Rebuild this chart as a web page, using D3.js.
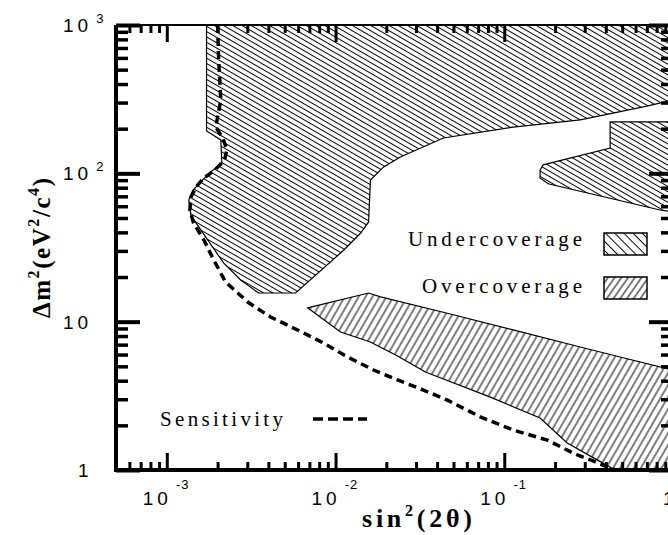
<!DOCTYPE html>
<html>
<head>
<meta charset="utf-8">
<script src="https://cdn.jsdelivr.net/npm/d3@7"></script>
<style>
  body { margin: 0; background: #fff; }
  .tick line { stroke: #000; }
  .domain { stroke: #000; }
</style>
</head>
<body>
<div id="chart"></div>
<script>
// region boundaries: [sin^2(2theta), dm^2]
var underMain = [
  [1.72e-3, 1000], [1.72e-3, 193], [2.09e-3, 168], [2.12e-3, 117], [1.82e-3, 102],
  [1.61e-3, 89], [1.43e-3, 77], [1.35e-3, 66], [1.39e-3, 52], [1.75e-3, 35.5],
  [2.17e-3, 24.9], [2.74e-3, 19.1], [3.5e-3, 15.6], [5.8e-3, 15.6], [1.12e-2, 30.4],
  [1.41e-2, 39.6], [1.57e-2, 47], [1.61e-2, 90], [1.92e-2, 110], [2.42e-2, 129],
  [4.36e-2, 173], [0.113, 205], [0.282, 229], [0.70, 284], [1.0, 312], [1.0, 1000]
];

var underIsland = [
  [1.0, 222], [0.424, 222], [0.424, 148], [0.170, 114], [0.163, 105],
  [0.163, 93], [0.182, 85], [0.838, 56.6], [1.0, 55]
];

var overRegion = [
  [6.83e-3, 12.4], [1.57e-2, 15.6], [1.85e-2, 14.7], [4.6e-2, 11.4], [0.113, 8.8],
  [0.282, 6.75], [0.486, 5.78], [1.0, 4.72], [1.0, 1.0], [0.454, 1.0],
  [0.355, 1.17], [0.236, 1.52], [0.163, 2.24], [0.0827, 3.1], [0.0341, 4.58],
  [0.0233, 5.87], [0.0161, 7.29], [0.0107, 8.52]
];

var sensitivity = [
  [2.0e-3, 1000], [2.03e-3, 581], [2.09e-3, 312], [1.95e-3, 205], [2.15e-3, 173],
  [2.27e-3, 144], [2.2e-3, 123], [1.92e-3, 105], [1.66e-3, 93], [1.49e-3, 81],
  [1.39e-3, 69], [1.37e-3, 56.6], [1.44e-3, 46.3], [1.66e-3, 35.5], [1.87e-3, 26.9],
  [2.23e-3, 18.5], [3.06e-3, 13.4], [4.12e-3, 10.75], [5.96e-3, 8.79], [8.49e-3, 7.18],
  [1.18e-2, 5.78], [1.68e-2, 4.72], [2.33e-2, 4.05], [3.32e-2, 3.46], [4.6e-2, 2.96],
  [7.21e-2, 2.28], [0.113, 1.86], [0.18, 1.59], [0.256, 1.3], [0.336, 1.15],
  [0.407, 1.05], [0.454, 1.0]
];

var xMajor = [1e-3, 1e-2, 1e-1, 1];
var yMajor = [1, 10, 100, 1000];
var xTickLabels = [
  {v: 1e-3, base: "10", exp: "-3"},
  {v: 1e-2, base: "10", exp: "-2"},
  {v: 1e-1, base: "10", exp: "-1"},
  {v: 1, base: "1", exp: ""}
];
var yTickLabels = [
  {v: 1000, base: "10", exp: "3"},
  {v: 100, base: "10", exp: "2"},
  {v: 10, base: "10", exp: ""},
  {v: 1, base: "1", exp: ""}
];
var legendLabels = ["Undercoverage", "Overcoverage"];

(function() {
  var width = 668,
      height = 535,
      left = 116, right = 673, top = 25, bottom = 470;

  var svg = d3.select("#chart")
    .append("svg")
    .attr("width", width)
    .attr("height", height);

  var x = d3.scaleLog().domain([5e-4, 1]).range([left, right]);
  var y = d3.scaleLog().domain([1, 1000]).range([bottom, top]);

  // minor ticks: 2..9 in every decade
  function minors(lo, hi) {
    var out = [];
    for (var p = lo; p < hi; p++) {
      for (var m = 2; m <= 9; m++) {
        out.push(m * Math.pow(10, p));
      }
    }
    return out;
  }
  var xMinor = minors(-4, 0).filter(function(v) { return v > 5e-4 && v < 1; });
  var yMinor = minors(0, 3);

  var defs = svg.append("defs");

  function hatch(id, spacing, angle) {
    var p = defs.append("pattern")
      .attr("id", id)
      .attr("patternUnits", "userSpaceOnUse")
      .attr("width", spacing)
      .attr("height", spacing)
      .attr("patternTransform", "rotate(" + angle + ")");
    p.append("line")
      .attr("x1", -1).attr("x2", spacing + 1)
      .attr("y1", spacing / 2).attr("y2", spacing / 2)
      .attr("stroke", "#000")
      .attr("stroke-width", 1);
  }
  hatch("under", 4.6, 30);
  hatch("over", 6, -60);
  hatch("underLeg", 6.5, 45);
  hatch("overLeg", 5.5, -55);

  defs.append("clipPath").attr("id", "plot")
    .append("rect")
    .attr("x", left).attr("y", top)
    .attr("width", right - left).attr("height", bottom - top);

  var line = d3.line()
    .x(function(d) { return x(d[0]); })
    .y(function(d) { return y(d[1]); });

  var g = svg.append("g").attr("clip-path", "url(#plot)");

  //the hatched regions
  g.selectAll(".region")
    .data([
      {pts: underMain, fill: "url(#under)"},
      {pts: underIsland, fill: "url(#under)"},
      {pts: overRegion, fill: "url(#over)"}
    ])
    .enter()
    .append("path")
    .attr("class", "region")
    .attr("d", function(d) { return line(d.pts) + "Z"; })
    .attr("fill", function(d) { return d.fill; })
    .attr("stroke", "#000")
    .attr("stroke-width", 1.2);

  //sensitivity curve
  g.append("path")
    .attr("d", line(sensitivity))
    .attr("fill", "none")
    .attr("stroke", "#000")
    .attr("stroke-width", 3.5)
    .attr("stroke-dasharray", "8,5");

  //axes, ticks pointing inwards
  function drawAxis(axis, tr, vals, size, sw) {
    svg.append("g")
      .attr("transform", tr)
      .call(axis.tickValues(vals).tickSize(size).tickSizeOuter(0).tickFormat(""))
      .call(function(s) {
        s.selectAll(".tick line").attr("stroke-width", sw);
        s.select(".domain").remove();
      });
  }
  drawAxis(d3.axisBottom(x), "translate(0," + bottom + ")", xMinor, -8, 3);
  drawAxis(d3.axisBottom(x), "translate(0," + bottom + ")", xMajor, -17, 3);
  drawAxis(d3.axisTop(x), "translate(0," + top + ")", xMinor, -8, 3);
  drawAxis(d3.axisTop(x), "translate(0," + top + ")", xMajor, -17, 3);
  drawAxis(d3.axisLeft(y), "translate(" + left + ",0)", yMinor, -12, 3.5);
  drawAxis(d3.axisLeft(y), "translate(" + left + ",0)", yMajor, -24, 4);
  drawAxis(d3.axisRight(y), "translate(" + right + ",0)", yMinor, -12, 3.5);
  drawAxis(d3.axisRight(y), "translate(" + right + ",0)", yMajor, -24, 4);

  //frame
  svg.append("line").attr("x1", left - 2).attr("x2", right).attr("y1", bottom).attr("y2", bottom)
    .attr("stroke", "#000").attr("stroke-width", 4);
  svg.append("line").attr("x1", left).attr("x2", left).attr("y1", top).attr("y2", bottom + 2)
    .attr("stroke", "#000").attr("stroke-width", 4);
  svg.append("line").attr("x1", left).attr("x2", right).attr("y1", top).attr("y2", top)
    .attr("stroke", "#000").attr("stroke-width", 2);
  svg.append("line").attr("x1", right).attr("x2", right).attr("y1", top).attr("y2", bottom)
    .attr("stroke", "#000").attr("stroke-width", 2);

  //tick labels
  var sans = "'Liberation Sans', Arial, sans-serif";
  var serif = "'Liberation Serif', 'Times New Roman', serif";

  var yl = svg.selectAll(".ylab")
    .data(yTickLabels)
    .enter()
    .append("text")
    .attr("class", "ylab")
    .attr("font-family", sans)
    .attr("font-size", 19)
    .attr("letter-spacing", 4)
    .attr("x", function(d) { return d.base === "1" ? 78 : 63; })
    .attr("y", function(d) { return y(d.v) + 7; });
  yl.append("tspan").text(function(d) { return d.base; });
  yl.append("tspan")
    .attr("font-size", 13)
    .attr("dx", 4)
    .attr("dy", -9)
    .text(function(d) { return d.exp; });

  var xl = svg.selectAll(".xlab")
    .data(xTickLabels)
    .enter()
    .append("text")
    .attr("class", "xlab")
    .attr("font-family", sans)
    .attr("font-size", 19)
    .attr("letter-spacing", 4)
    .attr("x", function(d) { return x(d.v) - (d.exp ? 24 : 10); })
    .attr("y", 505);
  xl.append("tspan").text(function(d) { return d.base; });
  xl.append("tspan")
    .attr("font-size", 13)
    .attr("letter-spacing", 1)
    .attr("dx", 4)
    .attr("dy", -16)
    .text(function(d) { return d.exp; });

  //axis titles
  var xt = svg.append("text")
    .attr("font-family", serif)
    .attr("font-weight", "bold")
    .attr("font-size", 26)
    .attr("x", 362)
    .attr("y", 527)
    .attr("textLength", 110)
    .attr("lengthAdjust", "spacing");
  xt.append("tspan").text("sin");
  xt.append("tspan").attr("font-size", 16).attr("dy", -11).text("2");
  xt.append("tspan").attr("dy", 11).text("(2θ)");

  var yt = svg.append("text")
    .attr("font-family", serif)
    .attr("font-weight", "bold")
    .attr("font-size", 25)
    .attr("transform", "translate(50,318) rotate(-90)")
    .attr("textLength", 140)
    .attr("lengthAdjust", "spacing");
  yt.append("tspan").text("Δm");
  yt.append("tspan").attr("font-size", 16).attr("dy", -11).text("2");
  yt.append("tspan").attr("dy", 11).text("(eV");
  yt.append("tspan").attr("font-size", 16).attr("dy", -11).text("2");
  yt.append("tspan").attr("dy", 11).text("/c");
  yt.append("tspan").attr("font-size", 16).attr("dy", -11).text("4");
  yt.append("tspan").attr("dy", 11).text(")");

  //legend
  var legWidths = [174, 160];
  svg.selectAll(".leg")
    .data(legendLabels)
    .enter()
    .append("text")
    .attr("class", "leg")
    .attr("font-family", serif)
    .attr("font-size", 21)
    .attr("x", function(d, i) { return 582 - legWidths[i]; })
    .attr("y", function(d, i) { return 246 + i * 47; })
    .attr("textLength", function(d, i) { return legWidths[i]; })
    .attr("lengthAdjust", "spacing")
    .text(function(d) { return d; });

  svg.selectAll(".legbox")
    .data(["url(#underLeg)", "url(#overLeg)"])
    .enter()
    .append("rect")
    .attr("class", "legbox")
    .attr("x", 604)
    .attr("y", function(d, i) { return 233 + i * 44; })
    .attr("width", 43)
    .attr("height", 22)
    .attr("fill", function(d) { return d; })
    .attr("stroke", "#000")
    .attr("stroke-width", 1.5);

  svg.append("text")
    .attr("font-family", serif)
    .attr("font-size", 21)
    .attr("x", 160)
    .attr("y", 426)
    .attr("textLength", 123)
    .attr("lengthAdjust", "spacing")
    .text("Sensitivity");

  svg.append("line")
    .attr("x1", 313).attr("x2", 367)
    .attr("y1", 419).attr("y2", 419)
    .attr("stroke", "#000")
    .attr("stroke-width", 3.5)
    .attr("stroke-dasharray", "10,5");
})();
</script>
</body>
</html>
